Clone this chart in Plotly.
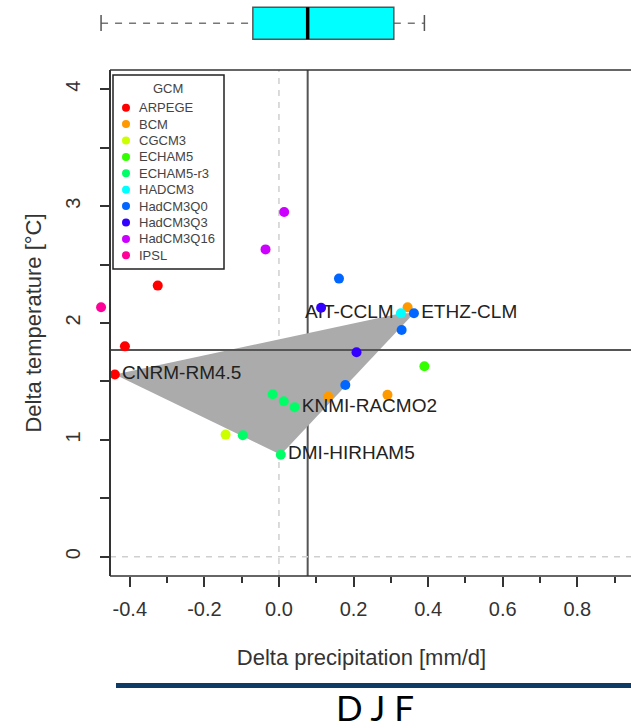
import plotly.graph_objects as go

# GCM palette (R rainbow(10))
gcm_names = ["ARPEGE", "BCM", "CGCM3", "ECHAM5", "ECHAM5-r3",
             "HADCM3", "HadCM3Q0", "HadCM3Q3", "HadCM3Q16", "IPSL"]
gcm_colors = ["#FF0000", "#FF9900", "#CCFF00", "#33FF00", "#00FF66",
              "#00FFFF", "#0066FF", "#3300FF", "#CC00FF", "#FF0099"]

# RCM simulations: driving GCM, precipitation and temperature change (DJF)
rcm_gcm = ["IPSL", "ARPEGE", "ARPEGE", "ARPEGE", "HadCM3Q16", "HadCM3Q16",
           "HadCM3Q0", "HadCM3Q3", "BCM", "HADCM3", "HadCM3Q0", "HadCM3Q0",
           "HadCM3Q3", "ECHAM5", "HadCM3Q0", "BCM", "BCM", "ECHAM5-r3",
           "ECHAM5-r3", "ECHAM5-r3", "CGCM3", "ECHAM5-r3", "ECHAM5-r3"]
d_precip = [-0.477, -0.325, -0.413, -0.440, 0.014, -0.036,
            0.161, 0.113, 0.345, 0.327, 0.362, 0.329,
            0.208, 0.390, 0.178, 0.132, 0.291, -0.017,
            0.013, 0.042, -0.143, -0.097, 0.005]
d_temp = [2.135, 2.32, 1.80, 1.56, 2.95, 2.63,
          2.38, 2.13, 2.134, 2.083, 2.083, 1.94,
          1.75, 1.63, 1.47, 1.37, 1.385, 1.39,
          1.33, 1.28, 1.045, 1.04, 0.873]
rcm_label = ["", "", "", "CNRM-RM4.5", "", "",
             "", "", "", "AIT-CCLM", "ETHZ-CLM", "",
             "", "", "", "", "", "",
             "", "KNMI-RACMO2", "", "", "DMI-HIRHAM5"]

# Summary of precipitation change (box above the panel) and reference lines
precip_stats = {"lower": -0.477, "q1": -0.07, "median": 0.077, "q3": 0.308, "upper": 0.390}
temp_median = 1.77

x_ticks = [-0.4, -0.2, 0.0, 0.2, 0.4, 0.6, 0.8]
x_minor = [-0.3, -0.1, 0.1, 0.3, 0.5, 0.7, 0.9]
y_ticks = [0, 1, 2, 3, 4]

# panel limits (the frame starts at X_LEFT; points may spill a little to its left)
X_LEFT, X_RIGHT = -0.453, 0.944
X_MIN = -0.5013

# ---- page geometry (pixels) ----
W, H = 631, 728
ML, MR, MT, MB = 92, 0, 0, 152
PW, PH = W - ML - MR, H - MT - MB


def px(xp):
    return (xp - ML) / PW


def py(yp):
    return (H - MB - yp) / PH


FONT = "Liberation Sans, Arial, sans-serif"
TXT = "#333333"
FRAME = "#333333"
TOP = py(70)

fig = go.Figure()

# convex hull of the labelled RCMs
lab_pts = [(x, y) for x, y, l in zip(d_precip, d_temp, rcm_label) if l]


def hull(pts):
    pts = sorted(set(pts))

    def cross(o, a, b):
        return (a[0] - o[0]) * (b[1] - o[1]) - (a[1] - o[1]) * (b[0] - o[0])
    lower, upper = [], []
    for p in pts:
        while len(lower) >= 2 and cross(lower[-2], lower[-1], p) <= 0:
            lower.pop()
        lower.append(p)
    for p in reversed(pts):
        while len(upper) >= 2 and cross(upper[-2], upper[-1], p) <= 0:
            upper.pop()
        upper.append(p)
    return lower[:-1] + upper[:-1]


hp = hull(lab_pts)
path = "M " + " L ".join(f"{x},{y}" for x, y in hp) + " Z"

shapes = [
    dict(type="path", path=path, xref="x", yref="y", fillcolor="#ABABAB",
         line=dict(width=0), layer="below"),
    dict(type="line", xref="x", yref="paper", x0=0, x1=0, y0=0, y1=TOP,
         line=dict(color="#CFCFCF", width=1.5, dash="6px,6px"), layer="below"),
    dict(type="line", xref="x", yref="y", x0=X_LEFT, x1=X_RIGHT, y0=0, y1=0,
         line=dict(color="#CFCFCF", width=1.5, dash="6px,6px"), layer="below"),
    dict(type="line", xref="x", yref="paper", x0=precip_stats["median"], x1=precip_stats["median"],
         y0=0, y1=TOP, line=dict(color="#555555", width=2), layer="below"),
    dict(type="line", xref="x", yref="y", x0=X_LEFT, x1=X_RIGHT, y0=temp_median, y1=temp_median,
         line=dict(color="#555555", width=2), layer="below"),
    # frame: bottom and top edges
    dict(type="line", xref="x", yref="paper", x0=X_LEFT, x1=X_RIGHT, y0=0, y1=0,
         line=dict(color=FRAME, width=1.5)),
    dict(type="line", xref="x", yref="paper", x0=X_LEFT, x1=X_RIGHT, y0=TOP, y1=TOP,
         line=dict(color=FRAME, width=1.5)),
]

# box-and-whisker of precipitation change above the panel
yb0, yb1, ybm = py(39.3), py(7.3), py(23.3)
yc0, yc1 = py(31), py(15)
shapes += [
    dict(type="line", xref="x", yref="paper", x0=precip_stats["lower"], x1=precip_stats["q1"],
         y0=ybm, y1=ybm, line=dict(color="#777777", width=1.5, dash="7px,7px")),
    dict(type="line", xref="x", yref="paper", x0=precip_stats["q3"], x1=precip_stats["upper"],
         y0=ybm, y1=ybm, line=dict(color="#777777", width=1.5, dash="7px,7px")),
    dict(type="line", xref="x", yref="paper", x0=precip_stats["lower"], x1=precip_stats["lower"],
         y0=yc0, y1=yc1, line=dict(color="#555555", width=1.5)),
    dict(type="line", xref="x", yref="paper", x0=precip_stats["upper"], x1=precip_stats["upper"],
         y0=yc0, y1=yc1, line=dict(color="#555555", width=1.5)),
    dict(type="rect", xref="x", yref="paper", x0=precip_stats["q1"], x1=precip_stats["q3"],
         y0=yb0, y1=yb1, fillcolor="#00FFFF", line=dict(color="#555555", width=1.5)),
    dict(type="line", xref="x", yref="paper", x0=precip_stats["median"], x1=precip_stats["median"],
         y0=yb0, y1=yb1, line=dict(color="#000000", width=3.5)),
]

# points, one trace per driving GCM
for name, col in zip(gcm_names, gcm_colors):
    idx = [i for i, g in enumerate(rcm_gcm) if g == name]
    fig.add_trace(go.Scatter(
        x=[d_precip[i] for i in idx], y=[d_temp[i] for i in idx],
        mode="markers+text", name=name,
        text=[rcm_label[i] for i in idx],
        textposition=["middle left" if rcm_label[i] == "AIT-CCLM" else "middle right" for i in idx],
        textfont=dict(family=FONT, size=19, color="#222222"),
        marker=dict(color=col, size=10, line=dict(width=0)),
        cliponaxis=False, showlegend=False))

# legend panel
LX0, LX1, LY0, LY1 = 113, 224, 75, 269
shapes.append(dict(type="rect", xref="paper", yref="paper", x0=px(LX0), x1=px(LX1),
                   y0=py(LY1), y1=py(LY0), line=dict(color="#222222", width=1.5),
                   fillcolor="white", layer="above"))
annotations = [dict(text="GCM", x=px(168), y=py(88), xref="paper", yref="paper",
                    showarrow=False, xanchor="center", yanchor="middle",
                    font=dict(family=FONT, size=13, color="#444444"))]
for k, (name, col) in enumerate(zip(gcm_names, gcm_colors)):
    yy = 107.7 + k * 16.4
    shapes.append(dict(type="circle", xref="paper", yref="paper",
                       x0=px(126 - 4), x1=px(126 + 4), y0=py(yy + 4), y1=py(yy - 4),
                       fillcolor=col, line=dict(width=0), layer="above"))
    annotations.append(dict(text=name, x=px(137), y=py(yy), xref="paper", yref="paper",
                            showarrow=False, xanchor="left", yanchor="middle",
                            font=dict(family=FONT, size=13, color="#444444")))

# season banner
shapes.append(dict(type="line", xref="paper", yref="paper", x0=px(116), x1=px(640),
                   y0=py(685.5), y1=py(685.5), line=dict(color="#0E3A66", width=5)))
annotations.append(dict(text="D J F", x=px(375), y=py(707), xref="paper", yref="paper",
                        showarrow=False, xanchor="center", yanchor="middle",
                        font=dict(family="Lato, Open Sans, sans-serif", size=35, color="#000000")))

fig.update_layout(
    width=W, height=H, margin=dict(l=ML, r=MR, t=MT, b=MB, autoexpand=False),
    paper_bgcolor="white", plot_bgcolor="white",
    shapes=shapes, annotations=annotations, showlegend=False,
    xaxis=dict(range=[X_MIN, X_RIGHT], tickvals=x_ticks,
               ticktext=[f"{v:.1f}" for v in x_ticks],
               showgrid=False, zeroline=False, showline=False,
               ticks="outside", ticklen=10, tickwidth=1.5, tickcolor=FRAME,
               ticklabelstandoff=5,
               minor=dict(tickmode="array", tickvals=x_minor, ticks="outside", ticklen=6,
                          tickwidth=1.5, tickcolor=FRAME, showgrid=False),
               tickfont=dict(family=FONT, size=20, color=TXT),
               title=dict(text="Delta precipitation [mm/d]", standoff=30,
                          font=dict(family=FONT, size=22, color=TXT)),
               automargin=False),
    yaxis=dict(domain=[0, TOP], range=[-0.165, 4.165], tickvals=y_ticks,
               anchor="free", position=(110 - ML) / PW,
               showgrid=False, zeroline=False, showline=True,
               linecolor=FRAME, linewidth=1.5, ticks="outside", ticklen=9,
               tickwidth=1.5, tickcolor=FRAME, tickangle=-90, ticklabelstandoff=12,
               minor=dict(dtick=0.5, ticks="outside", ticklen=9, tickwidth=1.5,
                          tickcolor=FRAME, showgrid=False),
               tickfont=dict(family=FONT, size=20, color=TXT),
               title=dict(text="Delta temperature [°C]", standoff=14,
                          font=dict(family=FONT, size=22, color=TXT)),
               automargin=False),
)

fig.write_html("out.html")
